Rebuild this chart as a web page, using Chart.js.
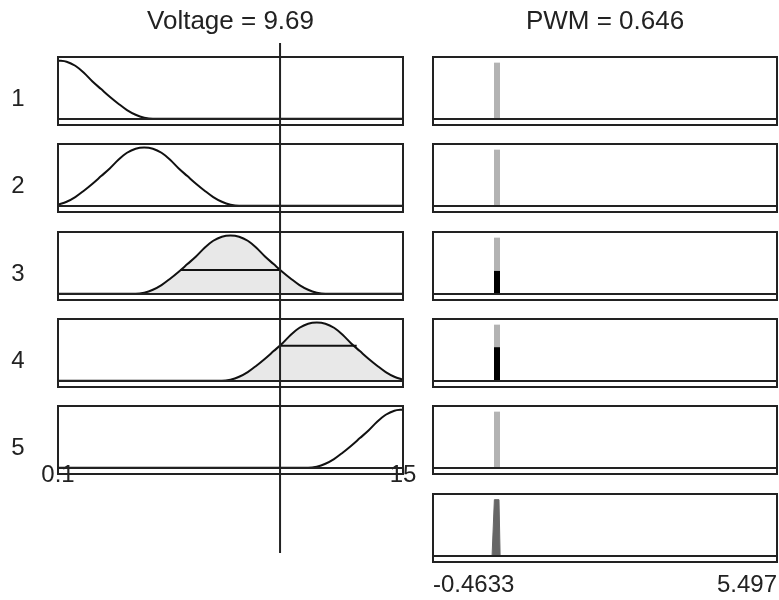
<!DOCTYPE html>
<html>
<head>
<meta charset="utf-8">
<script src="https://cdn.jsdelivr.net/npm/chart.js@4.4.1/dist/chart.umd.min.js"></script>
<style>
  html, body { margin: 0; padding: 0; background: #fff; }
  #wrap { position: relative; width: 779px; height: 600px; overflow: hidden;
          font-family: "Liberation Sans", Arial, sans-serif; color: #222; }
  #wrap canvas { position: absolute; }
  .lbl { position: absolute; font-size: 24px; line-height: 24px; white-space: nowrap; transform: translateX(-50%); }
  .ttl { font-size: 26px; line-height: 26px; }
</style>
</head>
<body>
<div id="wrap"></div>
<script>
const inputName = "Voltage";
const outputName = "PWM";
const inputValue = 9.69;
const outputValue = 0.646;
const inputRange = [0.1, 15];
const outputRange = [-0.4633, 5.497];
const inputTicks = ["0.1", "15"];
const outputTicks = ["-0.4633", "5.497"];
const ruleLabels = ["1", "2", "3", "4", "5"];

const voltageGrid = [0.1, 0.4725, 0.845, 1.2175, 1.59, 1.9625, 2.335, 2.7075, 3.08, 3.4525,
                     3.825, 4.1975, 4.57, 4.9425, 5.315, 5.6875, 6.06, 6.4325, 6.805, 7.1775,
                     7.55, 7.9225, 8.295, 8.6675, 9.04, 9.4125, 9.785, 10.1575, 10.53, 10.9025,
                     11.275, 11.6475, 12.02, 12.3925, 12.765, 13.1375, 13.51, 13.8825, 14.255, 14.6275, 15];
const mf1 = [1, .98, .91, .79, .64, .51, .38, .26, .15, .07,
             .02, 0, 0, 0, 0, 0, 0, 0, 0, 0,
             0, 0, 0, 0, 0, 0, 0, 0, 0, 0,
             0, 0, 0, 0, 0, 0, 0, 0, 0, 0, 0];
const mf2 = [.02, .07, .15, .26, .38, .51, .64, .79, .91, .98,
             1, .98, .91, .79, .64, .51, .38, .26, .15, .07,
             .02, 0, 0, 0, 0, 0, 0, 0, 0, 0,
             0, 0, 0, 0, 0, 0, 0, 0, 0, 0, 0];
const mf3 = [0, 0, 0, 0, 0, 0, 0, 0, 0, 0,
             .02, .07, .15, .26, .38, .51, .64, .79, .91, .98,
             1, .98, .91, .79, .64, .51, .38, .26, .15, .07,
             .02, 0, 0, 0, 0, 0, 0, 0, 0, 0, 0];
const mf4 = [0, 0, 0, 0, 0, 0, 0, 0, 0, 0,
             0, 0, 0, 0, 0, 0, 0, 0, 0, 0,
             .02, .07, .15, .26, .38, .51, .64, .79, .91, .98,
             1, .98, .91, .79, .64, .51, .38, .26, .15, .07, .02];
const mf5 = [0, 0, 0, 0, 0, 0, 0, 0, 0, 0,
             0, 0, 0, 0, 0, 0, 0, 0, 0, 0,
             0, 0, 0, 0, 0, 0, 0, 0, 0, 0,
             .02, .07, .15, .26, .38, .51, .64, .79, .91, .98, 1];
const inputMfs = [mf1, mf2, mf3, mf4, mf5];

const ruleStrength = [0, 0, 0.41, 0.6, 0];
const levelStart = [null, null, 5.37, 9.69, null];
const levelEnd = [null, null, 9.69, 13.0, null];
const ruleOutput = [0.646, 0.646, 0.646, 0.646, 0.646];
const aggX = [0.56, 0.60, 0.68, 0.70];
const aggY = [0, 1, 1, 0];

// ---- layout ----
const wrap = document.getElementById("wrap");
const rowTops = [57, 144, 232, 319, 406, 494];
const BOX_H = 68;
const cols = {
  left:  { x: 0,   w: 420, padL: 58, padR: 17, range: inputRange,  ymax: 1.06 },
  right: { x: 420, w: 380, padL: 13, padR: 23, range: outputRange, ymax: 1.1 }
};
const FONT = '"Liberation Sans", Arial, sans-serif';

const frame = {
  id: "frame",
  afterDatasetsDraw(chart) {
    const { ctx, chartArea: a, scales: { y } } = chart;
    const z = Math.round(y.getPixelForValue(0));
    ctx.save();
    ctx.strokeStyle = "#222";
    ctx.lineWidth = 2;
    ctx.strokeRect(a.left, a.top, a.right - a.left, a.bottom - a.top);
    ctx.beginPath(); ctx.moveTo(a.left, z); ctx.lineTo(a.right, z); ctx.stroke();
    ctx.restore();
  }
};

// clip the shaded area of an input MF at the rule's firing strength
const clipFill = {
  id: "clipFill",
  beforeDatasetDraw(chart, args, opts) {
    if (opts.level == null || args.index !== opts.index) return;
    const { ctx, chartArea: a, scales: { y } } = chart;
    const top = y.getPixelForValue(opts.level);
    ctx.save();
    ctx.beginPath();
    ctx.rect(a.left, top, a.right - a.left, y.getPixelForValue(0) - top);
    ctx.clip();
  },
  afterDatasetDraw(chart, args, opts) {
    if (opts.level == null || args.index !== opts.index) return;
    chart.ctx.restore();
  }
};

function addCanvas(x, y, w, h) {
  const c = document.createElement("canvas");
  c.width = w; c.height = h;
  c.style.left = x + "px"; c.style.top = y + "px";
  wrap.appendChild(c);
  return c;
}

const quiet = { legend: { display: false }, tooltip: { enabled: false } };

function panel(colKey, row, datasets, clip) {
  const col = cols[colKey];
  const c = addCanvas(col.x, rowTops[row] - 4, col.w, BOX_H + 8);
  return new Chart(c.getContext("2d"), {
    type: "line",
    data: { datasets },
    plugins: [frame, clipFill],
    options: {
      responsive: false, animation: false, events: [],
      layout: { padding: { left: col.padL, right: col.padR, top: 4, bottom: 4 } },
      elements: { point: { radius: 0 } },
      scales: {
        x: { type: "linear", min: col.range[0], max: col.range[1], display: false },
        y: { min: -0.105, max: col.ymax, display: false }
      },
      plugins: Object.assign({ clipFill: clip || {} }, quiet)
    }
  });
}

// tick labels of a column: an empty chart whose x axis sits at labelTop
function axisChart(colKey, labelTop, labels, align) {
  const col = cols[colKey];
  const c = addCanvas(col.x, labelTop - 21, col.w, 61);
  return new Chart(c.getContext("2d"), {
    type: "line",
    data: { datasets: [] },
    options: {
      responsive: false, animation: false, events: [],
      layout: { padding: { left: col.padL, right: col.padR, top: 20, bottom: 0 } },
      scales: {
        x: {
          type: "linear", min: col.range[0], max: col.range[1],
          grid: { display: false, drawTicks: false },
          border: { display: false },
          ticks: {
            autoSkip: false, maxRotation: 0, color: "#222", padding: 0, align,
            font: { family: FONT, size: 24 },
            callback: (v, i) => labels[i]
          },
          afterBuildTicks: s => { s.ticks = col.range.map(v => ({ value: v })); },
          afterFit: s => { s.height = 40; }
        },
        y: { min: 0, max: 1, display: false }
      },
      plugins: quiet
    }
  });
}

const pts = (xs, ys) => xs.map((x, i) => ({ x, y: ys[i] }));

// input column
inputMfs.forEach((mf, r) => {
  const ds = [
    { data: pts(voltageGrid, mf), borderColor: "#111", borderWidth: 2, cubicInterpolationMode: "monotone", order: 0 }
  ];
  let clip = null;
  if (ruleStrength[r] > 0) {
    ds.push({ data: pts(voltageGrid, mf), borderWidth: 0, backgroundColor: "#e8e8e8", fill: "origin",
              cubicInterpolationMode: "monotone", order: 2 });
    ds.push({ data: pts([levelStart[r], levelEnd[r]], [ruleStrength[r], ruleStrength[r]]),
              borderColor: "#111", borderWidth: 2, order: 1 });
    clip = { level: ruleStrength[r], index: 1 };
  }
  panel("left", r, ds, clip);
});

// output column
ruleOutput.forEach((v, r) => {
  const ds = [];
  if (ruleStrength[r] > 0) {
    ds.push({ data: pts([v, v], [0, ruleStrength[r]]), borderColor: "#000", borderWidth: 6, borderCapStyle: "butt" });
  }
  ds.push({ data: pts([v, v], [0, 1]), borderColor: "#b3b3b3", borderWidth: 6, borderCapStyle: "butt" });
  panel("right", r, ds);
});
panel("right", 5, [
  { data: pts(aggX, aggY), borderColor: "#666", borderWidth: 1, backgroundColor: "#666", fill: "origin" }
]);

axisChart("left", 461, inputTicks, "center");
axisChart("right", 571, outputTicks, "inner");

// vertical line at the current input value
const ov = addCanvas(cols.left.x, 0, cols.left.w, 600);
new Chart(ov.getContext("2d"), {
  type: "line",
  data: { datasets: [{ data: pts([inputValue, inputValue], [0, 1]), borderColor: "#222", borderWidth: 2 }] },
  options: {
    responsive: false, animation: false, events: [],
    layout: { padding: { left: cols.left.padL, right: cols.left.padR, top: 43, bottom: 47 } },
    elements: { point: { radius: 0 } },
    scales: { x: { type: "linear", min: inputRange[0], max: inputRange[1], display: false },
              y: { min: 0, max: 1, display: false } },
    plugins: quiet
  }
});

// titles and rule numbers
function label(text, cx, top, cls) {
  const d = document.createElement("div");
  d.className = "lbl" + (cls ? " " + cls : "");
  d.textContent = text;
  d.style.left = cx + "px";
  d.style.top = top + "px";
  wrap.appendChild(d);
}
label(inputName + " = " + inputValue, cols.left.x + (cols.left.padL + cols.left.w - cols.left.padR) / 2, 7, "ttl");
label(outputName + " = " + outputValue, cols.right.x + (cols.right.padL + cols.right.w - cols.right.padR) / 2, 7, "ttl");
ruleLabels.forEach((t, r) => label(t, 18, rowTops[r] + 29));
</script>
</body>
</html>
